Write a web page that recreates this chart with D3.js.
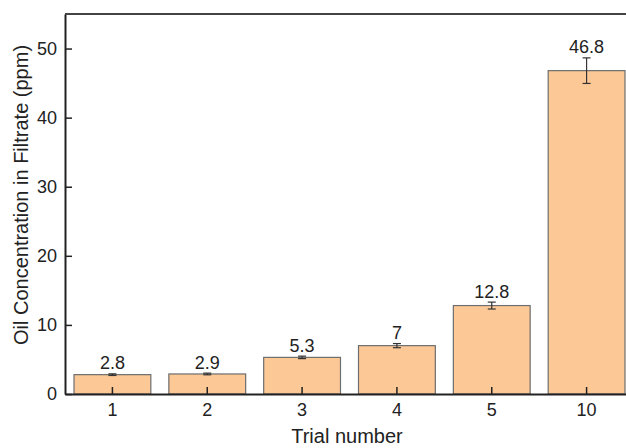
<!DOCTYPE html>
<html>
<head>
<meta charset="utf-8">
<script src="https://cdn.jsdelivr.net/npm/d3@7"></script>
<style>
  body { margin: 0; background: #fff; }
  svg text { font-family: "Liberation Sans", Arial, sans-serif; fill: #222; }
</style>
</head>
<body>
<div id="chart"></div>
<script>
// data
const trials = ["1", "2", "3", "4", "5", "10"];
const oil = [2.8, 2.9, 5.3, 7, 12.8, 46.8];
const oilErr = [0.12, 0.12, 0.18, 0.3, 0.5, 1.85];
const yTicks = [0, 10, 20, 30, 40, 50];

const width = 626, height = 448;
const margin = {top: 14, right: -8, bottom: 54, left: 65};

const svg = d3.select("#chart").append("svg")
    .attr("width", width)
    .attr("height", height);

const x = d3.scaleBand()
    .domain(trials)
    .range([margin.left, width - margin.right])
    .paddingInner(0.19)
    .paddingOuter(0.095);

const y = d3.scaleLinear()
    .domain([0, 55])
    .range([height - margin.bottom, margin.top]);

// bars
svg.append("g")
  .selectAll("rect")
  .data(oil)
  .join("rect")
    .attr("x", (d, i) => x(trials[i]))
    .attr("y", d => y(d))
    .attr("width", x.bandwidth())
    .attr("height", d => y(0) - y(d))
    .attr("fill", "#fbc896")
    .attr("stroke", "#6e6e6e")
    .attr("stroke-width", 1.2);

// error bars
const eb = svg.append("g").attr("stroke", "#333").attr("stroke-width", 1.2);
oil.forEach((d, i) => {
  const cx = x(trials[i]) + x.bandwidth() / 2;
  const hi = y(d + oilErr[i]), lo = y(d - oilErr[i]);
  eb.append("line").attr("x1", cx).attr("x2", cx).attr("y1", hi).attr("y2", lo);
  eb.append("line").attr("x1", cx - 4).attr("x2", cx + 4).attr("y1", hi).attr("y2", hi);
  eb.append("line").attr("x1", cx - 4).attr("x2", cx + 4).attr("y1", lo).attr("y2", lo);
});

// value labels
svg.append("g")
  .selectAll("text")
  .data(oil)
  .join("text")
    .attr("x", (d, i) => x(trials[i]) + x.bandwidth() / 2)
    .attr("y", (d, i) => y(d + oilErr[i]) - 4.5)
    .attr("text-anchor", "middle")
    .attr("font-size", 18)
    .text(d => d);

// axes, ticks pointing inward
const xAxis = svg.append("g")
    .attr("transform", `translate(0,${y(0)})`)
    .call(d3.axisBottom(x).tickSizeInner(-7).tickSizeOuter(0).tickPadding(9));
const yAxis = svg.append("g")
    .attr("transform", `translate(${margin.left},0)`)
    .call(d3.axisLeft(y).tickValues(yTicks).tickSizeInner(-7).tickSizeOuter(0).tickPadding(8));

[xAxis, yAxis].forEach(g => {
  g.select(".domain").attr("stroke", "#222").attr("stroke-width", 2);
  g.selectAll(".tick line").attr("stroke", "#222").attr("stroke-width", 1.5);
  g.selectAll(".tick text").attr("font-size", 18).attr("fill", "#222")
    .style("font-family", "'Liberation Sans', Arial, sans-serif");
});

// frame top + right
svg.append("path")
    .attr("d", `M${margin.left},${margin.top}H${width - margin.right}V${y(0)}`)
    .attr("fill", "none")
    .attr("stroke", "#444")
    .attr("stroke-width", 2);

// axis titles
svg.append("text")
    .attr("x", 347)
    .attr("y", 443)
    .attr("text-anchor", "middle")
    .attr("font-size", 20)
    .text("Trial number");

svg.append("text")
    .attr("transform", `translate(28,195) rotate(-90)`)
    .attr("text-anchor", "middle")
    .attr("font-size", 20)
    .text("Oil Concentration in Filtrate (ppm)");
</script>
</body>
</html>
